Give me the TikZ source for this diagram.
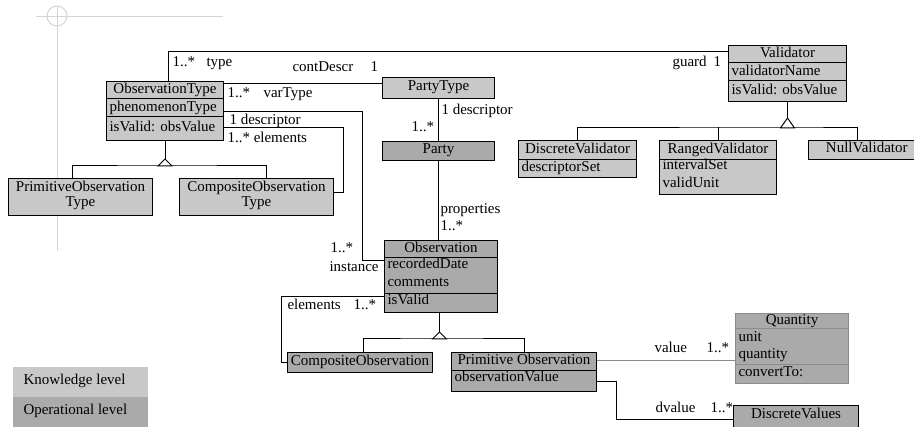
\documentclass[tikz,border=0pt]{standalone}
\usepackage{fontspec}
\setmainfont{Liberation Serif}
\usetikzlibrary{calc}
\definecolor{know}{HTML}{C8C8C8}
\definecolor{oper}{HTML}{AAAAAA}
\definecolor{crossc}{HTML}{D4D4D4}
\definecolor{qborder}{HTML}{8C8C8C}
\newcommand\divline[2]{\draw ([yshift=-#2pt]#1.north west) -- ([yshift=-#2pt]#1.north east);}
\begin{document}
\begin{tikzpicture}[x=1pt,y=-1pt, font=\fontsize{15}{17}\selectfont, line width=1pt,
  box/.style={draw, inner sep=0pt, anchor=north west},
  lbl/.style={anchor=base west, inner sep=0pt},
  ttl/.style={anchor=mid, inner sep=0pt},
  att/.style={anchor=mid west, inner sep=0pt},
  gentri/.style={draw, fill=white}]
\useasboundingbox (0,0) rectangle (914,427);

% crosshair mark
\draw[crossc] (36,17) -- (223,17);
\draw[crossc] (57,7) -- (57,251);
\draw[crossc] (57,16) circle (10);

% legend
\node[box, draw=none, fill=know, minimum width=135pt, minimum height=30pt] (kl) at (12,367) {};
\node[att] (klt) at ([xshift=11pt]kl.west) {Knowledge level};
\node[box, draw=none, fill=oper, minimum width=135pt, minimum height=30pt] (ol) at (12,397) {};
\node[att] (olt) at ([xshift=11pt]ol.west) {Operational level};

% ObservationType
\node[box, fill=know, minimum width=117pt, minimum height=59pt] (ot) at (106,81) {};
\divline{ot}{18}\divline{ot}{36}
\node[ttl] (ot1) at ([yshift=-10pt]ot.north) {ObservationType};
\node[att] (ot2) at ([xshift=3pt,yshift=-28pt]ot.north west) {phenomenonType};
\node[att] (ot3) at ([xshift=3pt,yshift=-48pt]ot.north west) {isValid: obsValue};

% PartyType
\node[box, fill=know, minimum width=112pt, minimum height=21pt] (pt) at (382,77) {};
\node[ttl] (pt1) at ([yshift=-11.5pt]pt.north) {PartyType};

% Party
\node[box, fill=oper, minimum width=112pt, minimum height=19pt] (pa) at (382,141) {};
\node[ttl] (pa1) at ([yshift=-10.5pt]pa.north) {Party};

% Validator
\node[box, fill=know, minimum width=118pt, minimum height=56pt] (va) at (728,45) {};
\divline{va}{18}\divline{va}{36}
\node[ttl] (va1) at ([yshift=-10pt]va.north) {Validator};
\node[att] (va2) at ([xshift=3pt,yshift=-28pt]va.north west) {validatorName};
\node[att] (va3) at ([xshift=3pt,yshift=-47pt]va.north west) {isValid: obsValue};

% DiscreteValidator
\node[box, fill=know, minimum width=118pt, minimum height=37pt] (dv) at (518,140) {};
\divline{dv}{20}
\node[ttl] (dv1) at ([yshift=-11pt]dv.north) {DiscreteValidator};
\node[att] (dv2) at ([xshift=3pt,yshift=-29.5pt]dv.north west) {descriptorSet};

% RangedValidator
\node[box, fill=know, minimum width=117pt, minimum height=54pt] (rv) at (659,140) {};
\divline{rv}{20}
\node[ttl] (rv1) at ([yshift=-11pt]rv.north) {RangedValidator};
\node[att] (rv2) at ([xshift=3pt,yshift=-27pt]rv.north west) {intervalSet};
\node[att] (rv3) at ([xshift=3pt,yshift=-45pt]rv.north west) {validUnit};

% NullValidator
\node[box, fill=know, minimum width=105.5pt, minimum height=19pt] (nv) at (808,140) {};
\node[ttl] (nv1) at ([xshift=5.5pt,yshift=-10.5pt]nv.north) {NullValidator};

% PrimitiveObservationType
\node[box, fill=know, minimum width=144pt, minimum height=37pt] (pot) at (8,178) {};
\node[ttl] (pot1) at ([yshift=-11.6pt]pot.north) {PrimitiveObservation};
\node[ttl] (pot2) at ([yshift=-26.6pt]pot.north) {Type};

% CompositeObservationType
\node[box, fill=know, minimum width=154pt, minimum height=37pt] (cot) at (179,178) {};
\node[ttl] (cot1) at ([yshift=-11.6pt]cot.north) {CompositeObservation};
\node[ttl] (cot2) at ([yshift=-26.6pt]cot.north) {Type};

% Observation
\node[box, fill=oper, minimum width=113pt, minimum height=72pt] (ob) at (384,240) {};
\divline{ob}{18}\divline{ob}{53.5}
\node[ttl] (ob1) at ([yshift=-10pt]ob.north) {Observation};
\node[att] (ob2) at ([xshift=3pt,yshift=-26pt]ob.north west) {recordedDate};
\node[att] (ob3) at ([xshift=3pt,yshift=-44pt]ob.north west) {comments};
\node[att] (ob4) at ([xshift=3pt,yshift=-62pt]ob.north west) {isValid};

% CompositeObservation
\node[box, fill=oper, minimum width=145pt, minimum height=20pt] (co) at (287,352) {};
\node[ttl] (co1) at ([yshift=-11pt]co.north) {CompositeObservation};

% PrimitiveObservation
\node[box, fill=oper, minimum width=145pt, minimum height=39pt] (po) at (451,352) {};
\divline{po}{19}
\node[ttl] (po1) at ([yshift=-10pt]po.north) {Primitive Observation};
\node[att] (po2) at ([xshift=3pt,yshift=-27pt]po.north west) {observationValue};

% Quantity
\node[box, draw=qborder, fill=oper, minimum width=113pt, minimum height=70pt] (qu) at (735,313) {};
\draw[qborder] ([yshift=-16pt]qu.north west) -- ([yshift=-16pt]qu.north east);
\draw[qborder] ([yshift=-52pt]qu.north west) -- ([yshift=-52pt]qu.north east);
\node[ttl] (qu1) at ([yshift=-9pt]qu.north) {Quantity};
\node[att] (qu2) at ([xshift=3pt,yshift=-26pt]qu.north west) {unit};
\node[att] (qu3) at ([xshift=3pt,yshift=-43pt]qu.north west) {quantity};
\node[att] (qu4) at ([xshift=3pt,yshift=-61pt]qu.north west) {convertTo:};

% DiscreteValues
\node[box, fill=oper, minimum width=125pt, minimum height=30pt] (dvs) at (733,405) {};
\node[ttl] (dvs1) at ([yshift=-11pt]dvs.north) {DiscreteValues};

% ---------- connectors ----------
% type / guard
\draw ([xshift=62pt]ot.north west) |- ([yshift=-7pt]va.north west);
% contDescr / varType
\draw ([yshift=-3pt]ot.north east) -- ([yshift=-3pt]ot.north east -| pt.west);
% descriptor / instance
\draw ([yshift=-31pt]ot.north east) -| ([xshift=-22pt,yshift=-21pt]ob.north west) -- ([yshift=-21pt]ob.north west);
% elements (type level)
\draw ([yshift=-47pt]ot.north east) -| ([xshift=9pt,yshift=-15pt]cot.north east) -- ([yshift=-15pt]cot.north east);
% PartyType - Party - Observation
\draw (pt.south) -- (pa.north);
\draw (pa.south) -- (pa.south |- ob.north);
% elements (operational)
\draw ([yshift=-57pt]ob.north west) -| ([xshift=-6pt,yshift=-11pt]co.north west) -- ([yshift=-11pt]co.north west);
% value
\draw[qborder] ([yshift=-9pt]po.north east) -- ([yshift=-9pt]po.north east -| qu.west);
% dvalue
\draw ([yshift=-30pt]po.north east) -| ([xshift=-117pt,yshift=-15pt]dvs.north west) -- ([yshift=-15pt]dvs.north west);

% generalisation: ObservationType
\draw (ot.south) -- ++(0,18) coordinate (otA);
\draw ([xshift=-8pt]pot.north) |- ([yshift=-7pt]otA) -| ([xshift=10pt]cot.north);
\draw[gentri] (otA) -- ++(-7,7) -- ++(14,0) -- cycle;
% generalisation: Validator
\draw (va.south) -- ++(0,16) coordinate (vaA);
\draw (dv.north) |- ([yshift=-10pt]vaA) -| ([xshift=-4pt]nv.north);
\draw (rv.north) -- (rv.north |- 0,127);
\draw[gentri] (vaA) -- ++(-7,10) -- ++(14,0) -- cycle;
% generalisation: Observation
\draw ([xshift=-1.5pt]ob.south) -- ++(0,19) coordinate (obA);
\draw ([xshift=3.5pt]co.north) |- ([yshift=-7pt]obA) -| (po.north);
\draw[gentri] (obA) -- ++(-7,7) -- ++(14,0) -- cycle;

% ---------- labels ----------
\node[lbl] (l1) at (172,67) {1..*};
\node[lbl] (l2) at (206,67) {type};
\node[lbl] (l3) at (292,72) {contDescr};
\node[lbl] (l4) at (370,72) {1};
\node[lbl] (l5) at (227,98) {1..*};
\node[lbl] (l6) at (263,98) {varType};
\node[lbl] (l7) at (229,125) {1 descriptor};
\node[lbl] (l8) at (227,143) {1..* elements};
\node[lbl] (l9) at (441,115) {1 descriptor};
\node[lbl] (l10) at (411,132) {1..*};
\node[lbl] (l11) at (672,67) {guard};
\node[lbl] (l12) at (713,67) {1};
\node[lbl] (l13) at (440,214) {properties};
\node[lbl] (l14) at (440,231) {1..*};
\node[lbl] (l15) at (330,253) {1..*};
\node[lbl] (l16) at (329,272) {instance};
\node[lbl] (l17) at (287,310) {elements};
\node[lbl] (l18) at (353,310) {1..*};
\node[lbl] (l19) at (654,353) {value};
\node[lbl] (l20) at (706,353) {1..*};
\node[lbl] (l21) at (655,413) {dvalue};
\node[lbl] (l22) at (710,413) {1..*};
\end{tikzpicture}
\end{document}
